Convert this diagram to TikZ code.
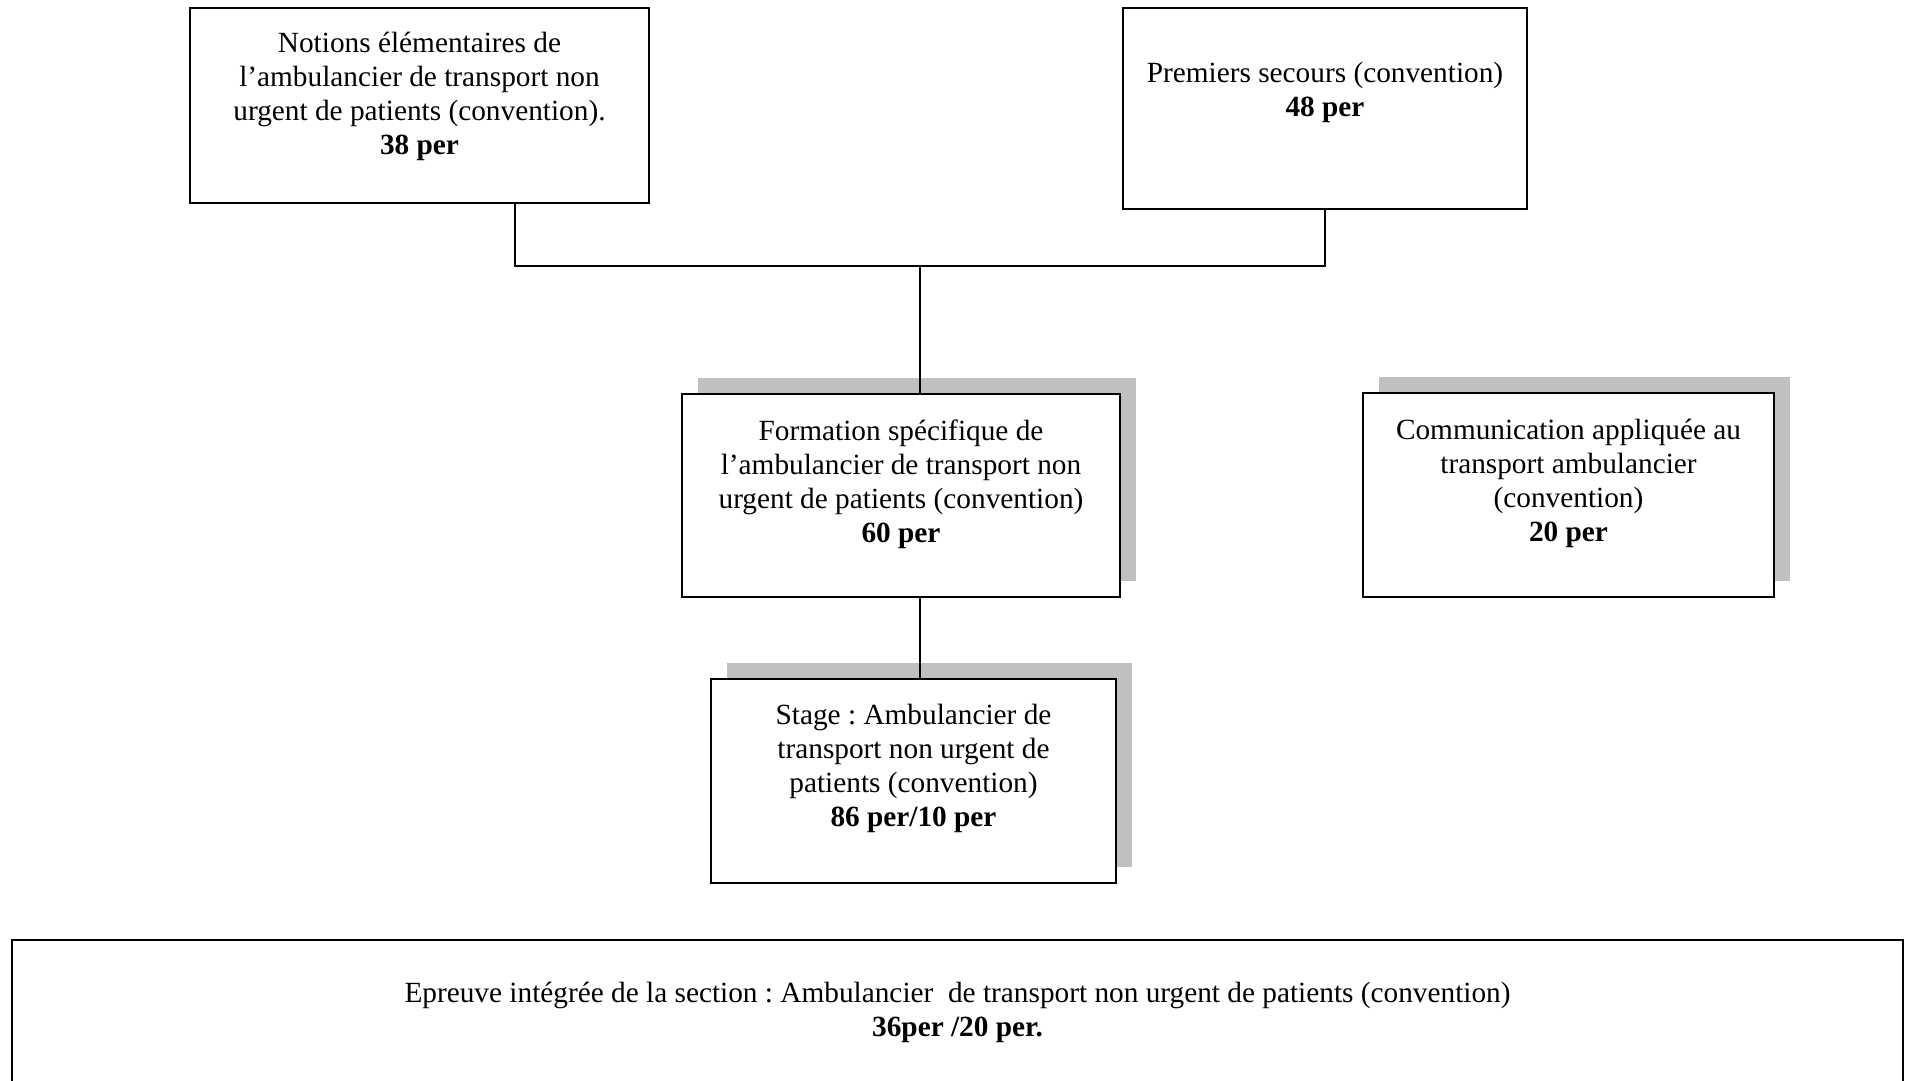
\documentclass[tikz,border=0pt]{standalone}
\usepackage{fontspec}
\setmainfont{Liberation Serif}
\usepackage{tikz}
\usetikzlibrary{positioning,calc,shadows}
\definecolor{shadowgray}{RGB}{192,192,192}
\frenchspacing

\begin{document}
\begin{tikzpicture}[x=1pt,y=-1pt,
    module/.style={draw,line width=2.8pt,fill=white,inner sep=0pt},
    withshadow/.style={drop shadow={shadow xshift=16pt,shadow yshift=16pt,fill=shadowgray,opacity=1}},
    modtext/.style={anchor=base,align=center,inner sep=0pt,font=\fontsize{29.3}{34}\selectfont},
    link/.style={line width=2.1pt}]
\useasboundingbox (0,0) rectangle (1908,1081);
% modules (boxes)
\node[module,minimum width=459pt,minimum height=195pt] (notions) at (419.5,105.5) {};
\node[module,minimum width=404pt,minimum height=201pt] (secours) at (1325,108.5) {};
\node[module,withshadow,minimum width=438pt,minimum height=203pt] (formation) at (901,495.5) {};
\node[module,withshadow,minimum width=411pt,minimum height=204pt] (communication) at (1568.5,495) {};
\node[module,withshadow,minimum width=405pt,minimum height=204pt] (stage) at (913.5,781) {};
\node[module,minimum width=1891pt,minimum height=160pt] (epreuve) at (957.5,1020) {};
% texts (base = last line)
\node[modtext] (notionstxt) at ($(notions.north)+(0,148)$) {Notions élémentaires de\\ l’ambulancier de transport non\\ urgent de patients (convention).\\ \textbf{38 per}};
\node[modtext] (secourstxt) at ($(secours.north)+(0,109.5)$) {Premiers secours (convention)\\ \textbf{48 per}};
\node[modtext] (formationtxt) at ($(formation.north)+(0,150)$) {Formation spécifique de\\ l’ambulancier de transport non\\ urgent de patients (convention)\\ \textbf{60 per}};
\node[modtext] (communicationtxt) at ($(communication.north)+(0,150)$) {Communication appliquée au\\ transport ambulancier\\ (convention)\\ \textbf{20 per}};
\node[modtext] (stagetxt) at ($(stage.north)+(0,149)$) {Stage : Ambulancier de\\ transport non urgent de\\ patients (convention)\\ \textbf{86 per/10 per}};
\node[modtext] (epreuvetxt) at ($(epreuve.north)+(0,98)$) {Epreuve intégrée de la section : Ambulancier~ de transport non urgent de patients (convention)\\ \textbf{36per /20 per.}};
% connectors
\coordinate (join) at (920,266);
\draw[link] ([xshift=95.5pt]notions.south) |- (join) -| (secours.south);
\draw[link] (join) -- (join |- formation.north);
\draw[link] (formation.south -| join) -- (stage.north -| join);
\end{tikzpicture}
\end{document}
